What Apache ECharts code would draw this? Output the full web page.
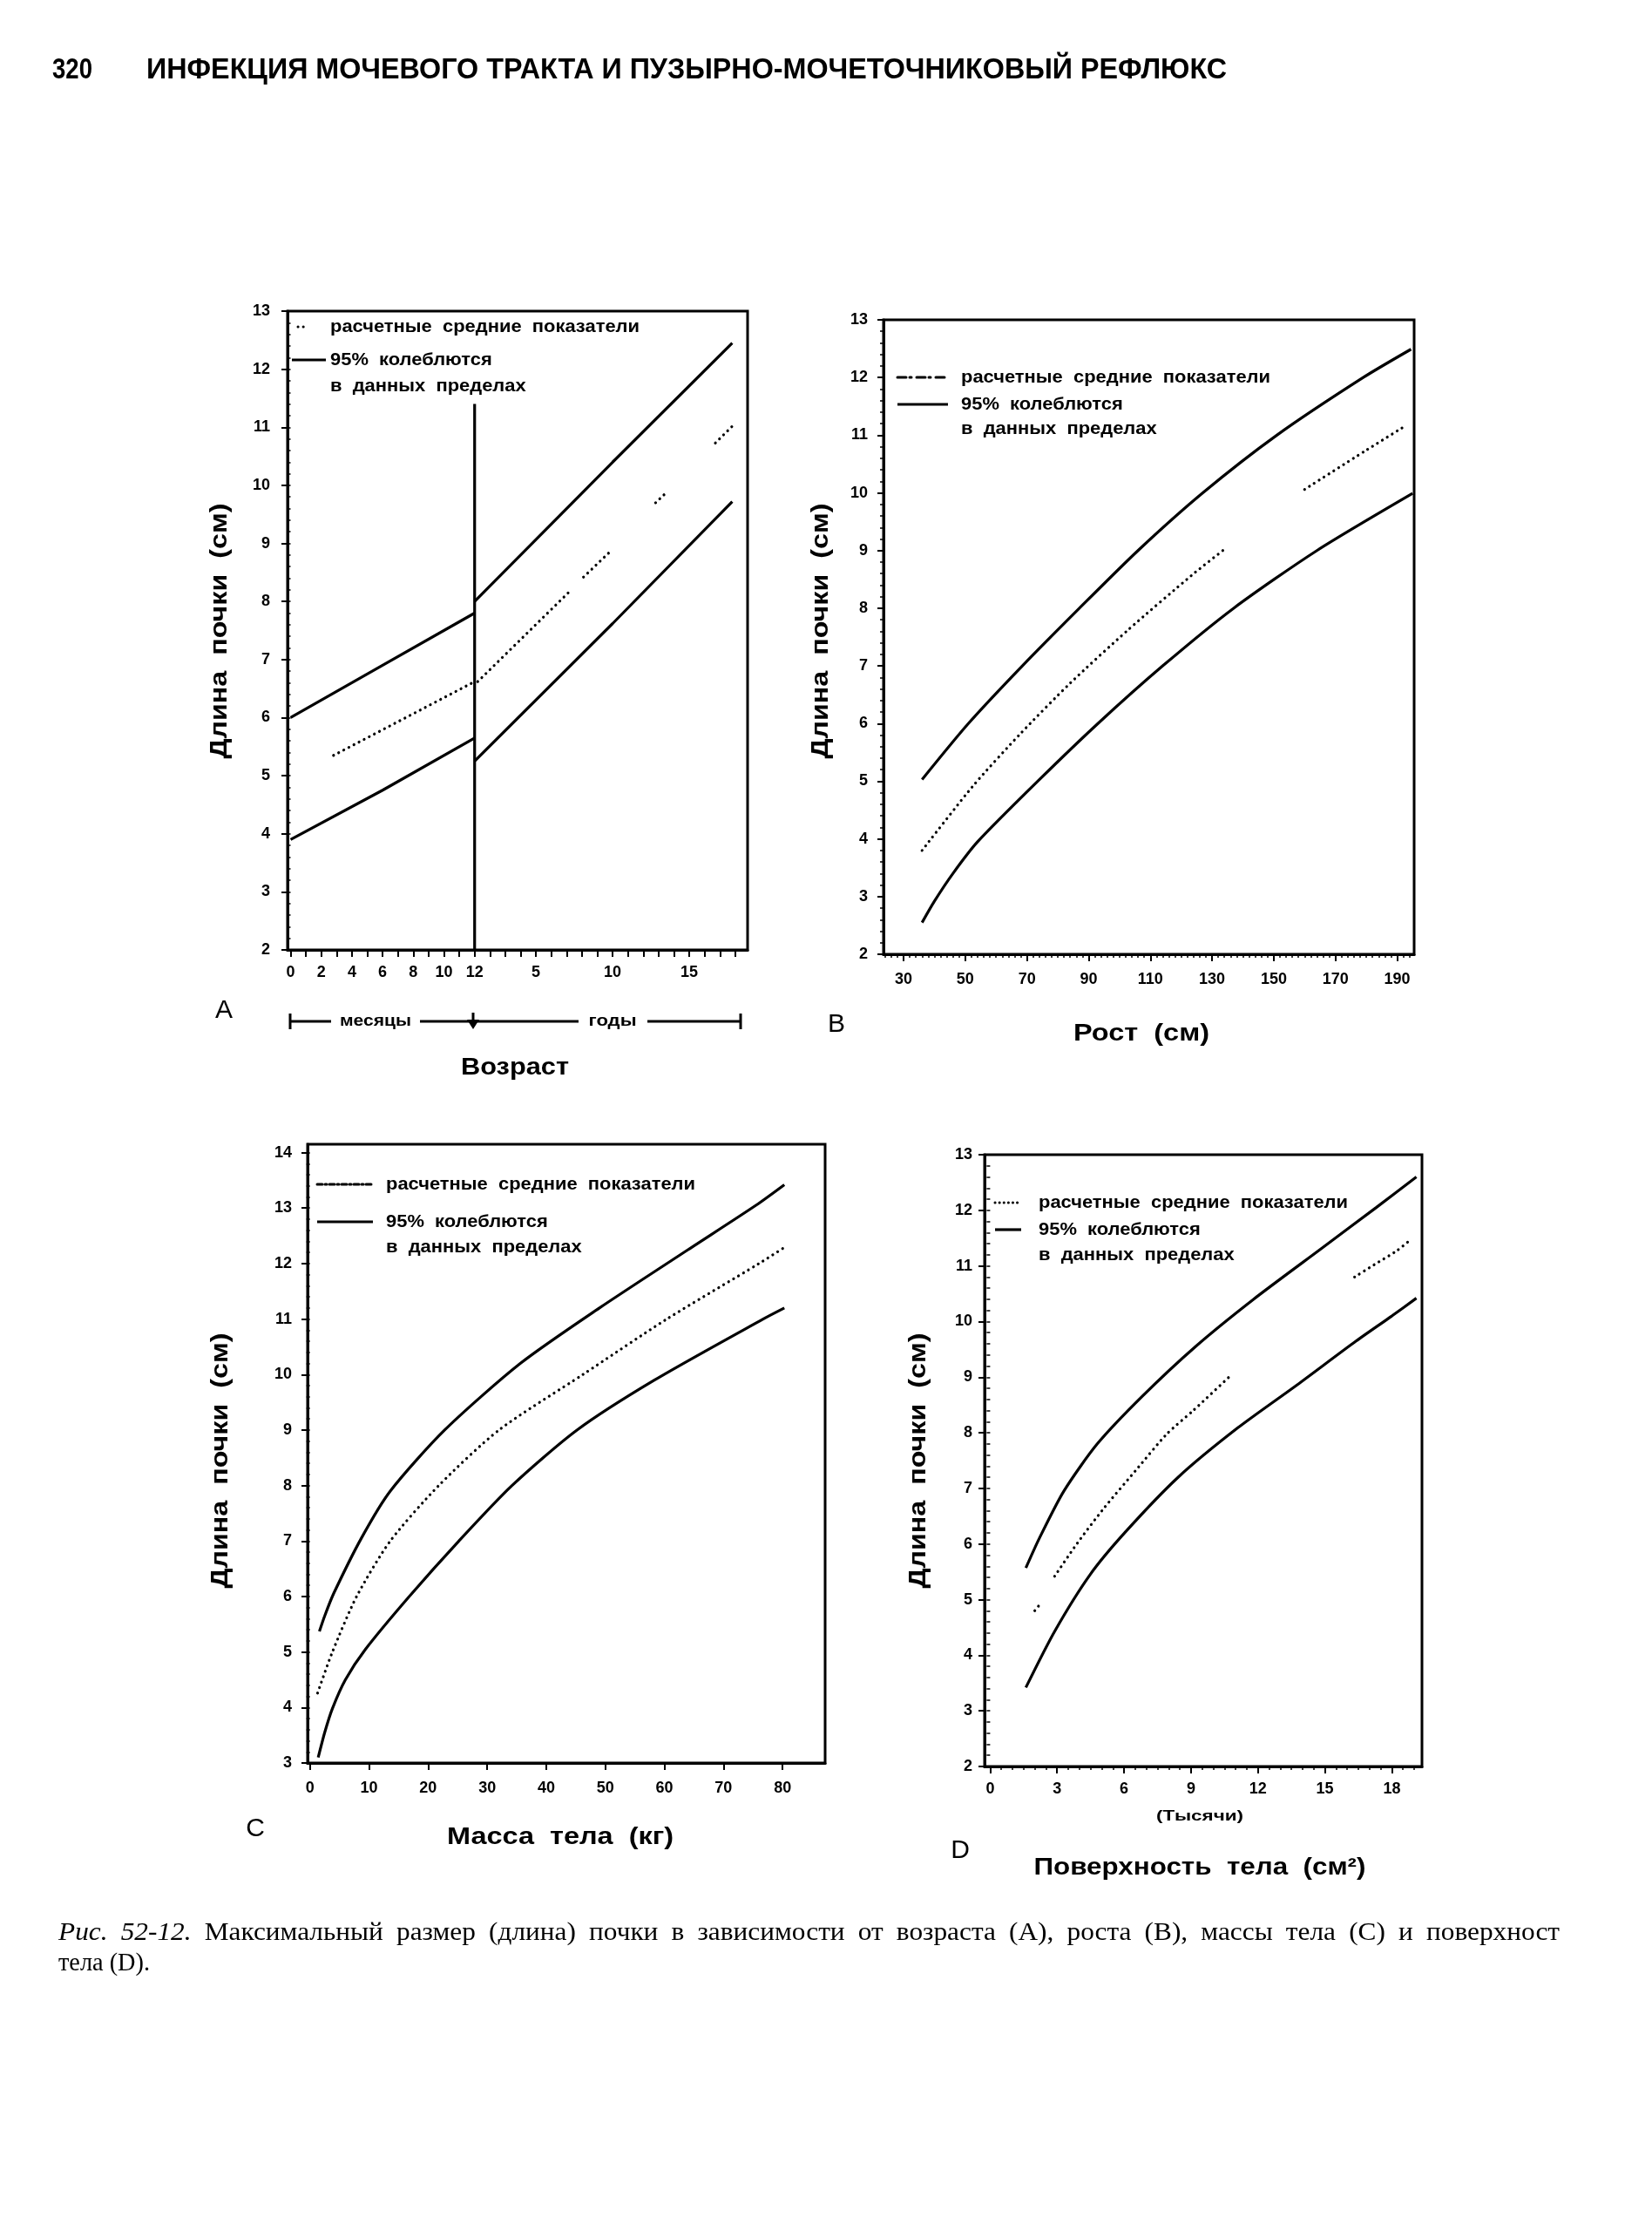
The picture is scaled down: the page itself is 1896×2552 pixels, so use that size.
<!DOCTYPE html>
<html><head><meta charset="utf-8">
<script src="https://cdn.jsdelivr.net/npm/echarts@6/dist/echarts.min.js"></script>
<style>html,body{margin:0;padding:0;background:#fff}#c{width:1896px;height:2552px}</style>
</head><body><div id="c"></div>
<script>
// ---------------- DATA ----------------
// Panel A: x in plot units: months 0..12, then (11 + years)
const ageLabelValues = [0,2,4,6,8,10,12,16,21,26];
const ageLabelTexts  = ['0','2','4','6','8','10','12','5','10','15'];
const upperA_months = [[0,6.0],[6,6.9],[12,7.8]];
const lowerA_months = [[0,3.9],[6,4.75],[12,5.65]];
const meanA_months  = [[2.8,5.35],[12,6.62]];
const upperA_years  = [[12,8.0],[21,10.4],[28.8,12.45]];
const lowerA_years  = [[12,5.25],[21,7.62],[28.8,9.72]];
const meanA_years   = [[[12.2,6.62],[18.3,8.2]],[[19.1,8.42],[20.8,8.85]],[[23.8,9.7],[24.6,9.9]],[[27.7,10.73],[29.0,11.07]]];
const dividerA      = [[12,2],[12,11.4]];

// Panel B: height (cm)
const heightLabels = [30,50,70,90,110,130,150,170,190];
const upperB = [[36,5.03],[51,6],[68.5,7],[87,8],[106,9],[127,10],[151,11],[179,12],[194.5,12.49]];
const lowerB = [[36,2.55],[40,2.92],[46,3.4],[54,3.95],[73.5,5],[93,6],[114,7],[137,8],[164,9],[195,9.99]];
const meanB  = [[[36,3.8],[52.7,4.93],[67.8,5.82],[84,6.7],[102.7,7.62],[123.6,8.58],[133.5,9.0]],[[160,10.06],[179.4,10.72],[192,11.14]]];

// Panel C: body mass (kg)
const weightLabels = [0,10,20,30,40,50,60,70,80];
const upperC = [[1.6,5.37],[2.5,5.65],[4,6.05],[8.7,7.05],[13.6,7.9],[22.8,9.0],[35.6,10.2],[49,11.2],[64,12.25],[75.5,13.05],[80.3,13.42]];
const lowerC = [[1.4,3.1],[2.5,3.55],[3.8,3.98],[6,4.5],[9.4,5.05],[16.8,6],[25.2,7],[34.2,8],[45.2,9],[58.3,9.9],[76.7,11],[80.3,11.2]];
const meanC  = [[[1.3,4.26],[3.8,5],[7.9,6],[13.6,7],[21.8,8],[32,9],[46.2,10],[60.4,11],[76,12],[80.3,12.29]]];

// Panel D: body surface (thousands of cm²)
const surfaceLabels = [0,3,6,9,12,15,18];
const upperD = [[1.6,5.57],[2.2,6.1],[3.3,6.95],[4.8,7.8],[6.8,8.65],[9.2,9.55],[11.8,10.4],[14.8,11.3],[17.3,12.05],[19.1,12.6]];
const lowerD = [[1.6,3.42],[2.89,4.43],[4.48,5.45],[6.07,6.22],[8.45,7.21],[11.1,8.09],[13.75,8.86],[16.4,9.65],[18.0,10.1],[19.1,10.42]];
const meanD  = [[[2.0,4.8],[2.2,4.9]],[[2.89,5.42],[3.88,6.0],[5.07,6.63],[6.6,7.36],[7.92,7.98],[9.1,8.4],[10.83,9.05]],[[16.33,10.8],[17.2,11.02],[18.25,11.28],[18.8,11.46]]];

// Texts
const pageNumber = '320';
const pageTitle = 'ИНФЕКЦИЯ МОЧЕВОГО ТРАКТА И ПУЗЫРНО-МОЧЕТОЧНИКОВЫЙ РЕФЛЮКС';
const yName = 'Длина  почки  (см)';
const legendMean = 'расчетные  средние  показатели';
const legend95a = '95%  колеблются';
const legend95b = 'в  данных  пределах';
const captionItalic = ['Рис.', '52-12.'];
const captionLine1 = 'Максимальный размер (длина) почки в зависимости от возраста (A), роста (B), массы тела (C) и поверхност';
const captionLine2 = 'тела (D).';

// ---------------- HELPERS ----------------
const SANS = '"Liberation Sans", Arial, sans-serif';
const SERIF = '"Liberation Serif", "Times New Roman", serif';
const ctx = document.createElement('canvas').getContext('2d');
function tw(t, font){ ctx.font = font; return ctx.measureText(t).width; }
function range(a, b, s){ const r=[]; for(let v=a; v<=b+1e-9; v+=s) r.push(Math.round(v*1000)/1000); return r; }

const graphics = [];
function txt(x, y, text, o){
  o = o || {};
  const font = o.font || ('bold 20px ' + SANS);
  const el = {type:'text', x, y, rotation:o.rot||0, silent:true, z:20,
    style:{text, font, fill:'#000', textAlign:o.align||'left', textVerticalAlign:'middle'}};
  if (o.width) el.scaleX = o.width / tw(text, font);
  if (o.sx) el.scaleX = o.sx;
  graphics.push(el);
  return el;
}
function seg(x1,y1,x2,y2,w,dash){
  graphics.push({type:'line', silent:true, z:20, shape:{x1,y1,x2,y2},
    style:{stroke:'#000', lineWidth:w||3, lineDash:dash||null, lineCap:dash?'round':'butt'}});
}

// axes
const xAxes = [], yAxes = [], grids = [], series = [];
function addPanel(g, gridBox, xmin, xmax, xLabels, xFmt, xMajor, xMinor, ymin, ymax, yLabels, yMinor, xMargin, yMargin){
  grids.push(Object.assign({show:true, borderColor:'#000', borderWidth:3, backgroundColor:'rgba(0,0,0,0)'}, gridBox));
  const lab = {color:'#000', fontSize:18, fontWeight:'bold', fontFamily:SANS};
  xAxes.push({type:'value', gridIndex:g, min:xmin, max:xmax, position:'bottom',
    axisLine:{show:true, onZero:false, lineStyle:{color:'#000', width:3}},
    axisTick:{show:true, customValues:xMajor, length:8, lineStyle:{color:'#000', width:2}},
    axisLabel:Object.assign({customValues:xLabels, margin:xMargin, formatter:xFmt}, lab),
    splitLine:{show:false}});
  xAxes.push({type:'value', gridIndex:g, min:xmin, max:xmax, position:'bottom',
    axisLine:{show:false}, axisTick:{show:xMinor.length>0, customValues:xMinor.length?xMinor:[xmin], length:4, lineStyle:{color:'#000', width:1.5}},
    axisLabel:{show:false}, splitLine:{show:false}});
  yAxes.push({type:'value', gridIndex:g, min:ymin, max:ymax, position:'left',
    axisLine:{show:true, onZero:false, lineStyle:{color:'#000', width:3}},
    axisTick:{show:true, customValues:yLabels, length:7, lineStyle:{color:'#000', width:2}},
    axisLabel:Object.assign({customValues:yLabels, margin:yMargin}, lab),
    splitLine:{show:false}});
  yAxes.push({type:'value', gridIndex:g, min:ymin, max:ymax, position:'left',
    axisLine:{show:false}, axisTick:{show:true, customValues:yMinor, length:4, lineStyle:{color:'#000', width:1.5}},
    axisLabel:{show:false}, splitLine:{show:false}});
}
function band(g, data, sm){
  series.push({type:'line', xAxisIndex:2*g, yAxisIndex:2*g, data, symbol:'none', showSymbol:false,
    smooth:sm, silent:true, z:3,
    lineStyle:{color:'#000', width:3.2}});
}
function mean(g, data, sm){
  series.push({type:'line', xAxisIndex:2*g, yAxisIndex:2*g, data, symbol:'none', showSymbol:false,
    smooth:sm, silent:true, z:3,
    lineStyle:{color:'#000', width:3.2, type:[0.1,6.5], cap:'round'}});
}

// ---------------- PANELS ----------------
// A (straight segments)
addPanel(0, {left:330, top:357, width:528, height:733}, -0.2, 29.8,
  ageLabelValues, v => { const i = ageLabelValues.indexOf(v); return i>=0 ? ageLabelTexts[i] : ''; },
  range(0,29,1), [], 2, 13, range(2,13,1), range(2,13,0.2), 17, 20);
band(0, upperA_months, false); band(0, lowerA_months, false); mean(0, meanA_months, false);
band(0, upperA_years, false);  band(0, lowerA_years, false);
meanA_years.forEach(s => mean(0, s, false));
series.push({type:'line', xAxisIndex:0, yAxisIndex:0, data:dividerA, symbol:'none', silent:true, z:3, lineStyle:{color:'#000', width:3.2}});

// B
addPanel(1, {left:1014, top:367, width:609, height:728}, 23.5, 195.5,
  heightLabels, v => String(v), heightLabels, range(24,194,2), 2, 13, range(2,13,1), range(2,13,0.2), 20, 18);
band(1, upperB, 0.25); band(1, lowerB, 0.25); meanB.forEach(s => mean(1, s, 0.25));

// C
addPanel(2, {left:353, top:1313, width:594, height:710}, -0.4, 87.2,
  weightLabels, v => String(v), weightLabels, [], 3, 14.15, range(3,14,1), range(3,14,0.2), 20, 18);
band(2, upperC, 0.25); band(2, lowerC, 0.25); meanC.forEach(s => mean(2, s, 0.25));

// D
addPanel(3, {left:1130, top:1325, width:502, height:702}, -0.25, 19.35,
  surfaceLabels, v => String(v), surfaceLabels, range(0,19,0.5), 2, 13, range(2,13,1), range(2,13,0.2), 17, 14);
band(3, upperD, 0.25); band(3, lowerD, 0.25); meanD.forEach(s => mean(3, s, 0.25));

// ---------------- TEXT / DECORATION ----------------
// header (tall condensed bold)
txt(60, 81, pageNumber, {font:'bold 34px ' + SANS, width:46});
txt(168, 81, pageTitle, {font:'bold 34px ' + SANS, width:1240});

// y axis names
[[252,724],[942,724],[253,1676],[1054,1676]].forEach(p =>
  txt(p[0], p[1], yName, {font:'bold 28px ' + SANS, rot:Math.PI/2, align:'center', width:293}));

// legends
const legFont = 'bold 20px ' + SANS;
const legScale = 355 / tw(legendMean, legFont);
function legend(m0, m1, s0, s1, tx, y1, y2, y3, dash){
  seg(m0, y1, m1, y1, 3, dash);
  seg(s0, y2, s1, y2, 3.2, null);
  txt(tx, y1, legendMean, {font:legFont, sx:legScale});
  txt(tx, y2, legend95a, {font:legFont, sx:legScale});
  txt(tx, y3, legend95b, {font:legFont, sx:legScale});
}
legend(342, 352, 335, 374, 379, 375, 413, 443, [0.1,6]);
legend(1030, 1088, 1030, 1088, 1103, 433, 464, 492, [10,4,2,6]);
legend(364, 428, 364, 428, 443, 1359, 1402, 1431, [6,3,2,3]);
legend(1142, 1172, 1142, 1172, 1192, 1380, 1411, 1440, [0.1,5]);

// panel letters
const letterFont = '30px ' + SANS;
txt(257, 1160, 'A', {font:letterFont, align:'center'});
txt(960, 1176, 'B', {font:letterFont, align:'center'});
txt(293, 2099, 'C', {font:letterFont, align:'center'});
txt(1102, 2124, 'D', {font:letterFont, align:'center'});

// axis titles
const titleFont = 'bold 28px ' + SANS;
txt(591, 1225, 'Возраст', {font:titleFont, align:'center', width:124});
txt(1310, 1186, 'Рост  (см)', {font:titleFont, align:'center', width:156});
txt(643, 2108, 'Масса  тела  (кг)', {font:titleFont, align:'center', width:260});
txt(1377, 2143, 'Поверхность  тела  (см²)', {font:titleFont, align:'center', width:381});
txt(1377, 2084, '(Тысячи)', {font:'bold 17px ' + SANS, align:'center', width:100});

// age bracket under panel A
const by = 1172;
seg(333, by-9, 333, by+9, 3); seg(333, by, 380, by, 3);
txt(431, by, 'месяцы', {font:'bold 19px ' + SANS, align:'center', width:82});
seg(482, by, 664, by, 3);
seg(543, by-10, 543, by+6, 3);
graphics.push({type:'polygon', silent:true, z:20, shape:{points:[[536,by-2],[550,by-2],[543,by+9]]}, style:{fill:'#000'}});
txt(703, by, 'годы', {font:'bold 19px ' + SANS, align:'center', width:55});
seg(743, by, 850, by, 3); seg(850, by-9, 850, by+9, 3);

// caption (justified first line, slightly widened glyphs)
const capFont = '29px ' + SERIF, capItFont = 'italic 29px ' + SERIF;
const capSX = 1.08;
const capWords = captionItalic.map(w => [w, capItFont]).concat(captionLine1.split(' ').map(w => [w, capFont]));
const capLeft = 67, capRight = 1790;
const capSum = capWords.reduce((s, w) => s + tw(w[0], w[1]) * capSX, 0);
const gap = (capRight - capLeft - capSum) / (capWords.length - 1);
let cx = capLeft;
capWords.forEach(w => { txt(cx, 2218, w[0], {font:w[1], sx:capSX}); cx += tw(w[0], w[1]) * capSX + gap; });
txt(capLeft, 2253, captionLine2, {font:capFont, width:105});

// ---------------- CHART ----------------
const chart = echarts.init(document.getElementById('c'), null, {renderer:'canvas', width:1896, height:2552});
chart.setOption({
  backgroundColor:'#fff', animation:false,
  grid:grids, xAxis:xAxes, yAxis:yAxes, series, graphic:graphics
});
</script></body></html>
